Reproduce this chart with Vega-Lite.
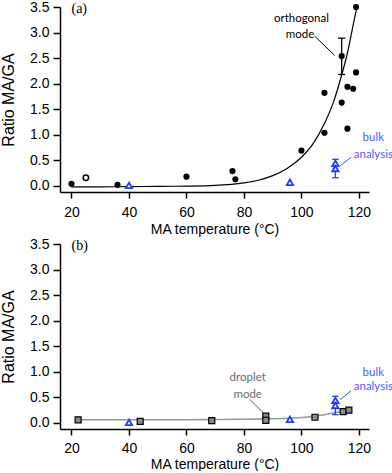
{
  "$schema": "https://vega.github.io/schema/vega-lite/v6.json",
  "padding": {"top": 0, "left": 0, "right": 0, "bottom": 0},
  "spacing": 1,
  "config": {
    "view": {"stroke": null},
    "axis": {
      "grid": false,
      "domainColor": "black",
      "domainWidth": 1.5,
      "tickColor": "black",
      "tickWidth": 1.5,
      "tickSize": 7,
      "labelColor": "black",
      "titleColor": "black",
      "labelFont": "Liberation Sans",
      "titleFont": "Liberation Sans",
      "labelFontSize": 14,
      "titleFontSize": 14,
      "titleFontWeight": "normal",
      "labelPadding": 4
    }
  },
  "datasets": {
    "curveA": [
      {"t": 20, "r": -0.02}, {"t": 30, "r": -0.02}, {"t": 40, "r": -0.015}, {"t": 50, "r": -0.01},
      {"t": 60, "r": -0.005}, {"t": 70, "r": 0.01}, {"t": 80, "r": 0.06}, {"t": 85, "r": 0.11},
      {"t": 90, "r": 0.2}, {"t": 95, "r": 0.34}, {"t": 100, "r": 0.56}, {"t": 104, "r": 0.82},
      {"t": 108, "r": 1.22}, {"t": 111, "r": 1.62}, {"t": 114, "r": 2.17}, {"t": 116, "r": 2.6},
      {"t": 118, "r": 3.15}, {"t": 119.3, "r": 3.5}
    ],
    "circA": [
      {"t": 20, "r": 0.04}, {"t": 36, "r": 0.02}, {"t": 60, "r": 0.18}, {"t": 76, "r": 0.29},
      {"t": 77, "r": 0.13}, {"t": 100, "r": 0.69}, {"t": 108, "r": 1.82}, {"t": 108, "r": 1.04},
      {"t": 114, "r": 2.54}, {"t": 114, "r": 1.63}, {"t": 116, "r": 1.94}, {"t": 116, "r": 1.12},
      {"t": 118, "r": 1.9}, {"t": 119, "r": 2.22}, {"t": 119, "r": 3.5}
    ],
    "openA": [{"t": 25, "r": 0.16}],
    "errA": [{"t": 114, "r": 2.18, "r2": 2.89}],
    "capsA": [{"t": 114, "r": 2.18}, {"t": 114, "r": 2.89}],
    "bulk": [{"t": 40, "r": 0.01}, {"t": 96, "r": 0.07}, {"t": 111.8, "r": 0.44}, {"t": 111.8, "r": 0.34}],
    "bulkErr": [{"t": 111.8, "r": 0.16, "r2": 0.52}],
    "bulkCaps": [{"t": 111.8, "r": 0.16}, {"t": 111.8, "r": 0.52}],
    "leadA": [{"t": 104.6, "r": 2.93, "t2": 111.6, "r2": 2.55}],
    "leadBulkA": [{"t": 117.3, "r": 0.56, "t2": 113.4, "r2": 0.39}],
    "textA": [{"t": 100, "r": 3.27, "label": "orthogonal"}, {"t": 99.5, "r": 2.96, "label": "mode"}],
    "bulkTextA": [{"t": 125, "r": 0.94, "label": "bulk"}, {"t": 125, "r": 0.61, "label": "analysis"}],
    "tagA": [{"t": 20, "r": 3.47, "label": "(a)"}],
    "curveB": [
      {"t": 22.3, "r": 0.06}, {"t": 30, "r": 0.06}, {"t": 40, "r": 0.06}, {"t": 50, "r": 0.06},
      {"t": 60, "r": 0.062}, {"t": 70, "r": 0.065}, {"t": 80, "r": 0.07}, {"t": 87.6, "r": 0.078},
      {"t": 95, "r": 0.09}, {"t": 100, "r": 0.105}, {"t": 104.7, "r": 0.13}, {"t": 108, "r": 0.16},
      {"t": 111, "r": 0.19}, {"t": 114.5, "r": 0.225}, {"t": 116.5, "r": 0.25}
    ],
    "sqB": [
      {"t": 22.3, "r": 0.06}, {"t": 43.9, "r": 0.03}, {"t": 68.8, "r": 0.045}, {"t": 87.6, "r": 0.13},
      {"t": 87.6, "r": 0.05}, {"t": 104.7, "r": 0.11}, {"t": 114.5, "r": 0.22}, {"t": 116.5, "r": 0.25}
    ],
    "leadB": [{"t": 82, "r": 0.46, "t2": 87.2, "r2": 0.17}],
    "leadBulkB": [{"t": 117.3, "r": 0.63, "t2": 113.4, "r2": 0.45}],
    "textB": [{"t": 81.3, "r": 0.87, "label": "droplet"}, {"t": 81.3, "r": 0.55, "label": "mode"}],
    "bulkTextB": [{"t": 125, "r": 0.97, "label": "bulk"}, {"t": 125, "r": 0.7, "label": "analysis"}],
    "tagB": [{"t": 20, "r": 3.46, "label": "(b)"}]
  },
  "vconcat": [
    {
      "width": 309,
      "height": 185,
      "encoding": {
        "x": {"field": "t", "type": "quantitative", "scale": {"domain": [16, 123.5], "nice": false, "zero": false},
              "axis": {"values": [20, 40, 60, 80, 100, 120], "title": "MA temperature (°C)", "tickSize": 6, "labelPadding": 7, "titlePadding": 3}},
        "y": {"field": "r", "type": "quantitative", "scale": {"domain": [-0.12, 3.5], "nice": false, "zero": false},
              "axis": {"values": [0, 0.5, 1, 1.5, 2, 2.5, 3, 3.5], "format": ".1f", "title": "Ratio MA/GA", "titleFontSize": 16, "titlePadding": 13}}
      },
      "layer": [
        {"data": {"name": "curveA"}, "mark": {"type": "line", "color": "black", "strokeWidth": 1.2, "interpolate": "monotone"}},
        {"data": {"name": "errA"}, "mark": {"type": "rule", "color": "black", "strokeWidth": 1.3}, "encoding": {"y2": {"field": "r2"}}},
        {"data": {"name": "capsA"}, "mark": {"type": "point", "shape": "stroke", "size": 49, "color": "black", "strokeWidth": 1.3, "opacity": 1}},
        {"data": {"name": "circA"}, "mark": {"type": "point", "shape": "circle", "filled": true, "size": 38, "color": "black", "opacity": 1}},
        {"data": {"name": "openA"}, "mark": {"type": "point", "shape": "circle", "size": 30, "stroke": "black", "fill": "white", "strokeWidth": 1.5, "opacity": 1}},
        {"data": {"name": "bulkErr"}, "mark": {"type": "rule", "color": "#1f3cff", "strokeWidth": 1.3}, "encoding": {"y2": {"field": "r2"}}},
        {"data": {"name": "bulkCaps"}, "mark": {"type": "point", "shape": "stroke", "size": 40, "color": "#1f3cff", "strokeWidth": 1.3, "opacity": 1}},
        {"data": {"name": "bulk"}, "mark": {"type": "point", "shape": "triangle-up", "size": 40, "stroke": "#1f3cff", "fill": "white", "fillOpacity": 1, "strokeWidth": 1.8, "opacity": 1}},
        {"data": {"name": "leadA"}, "mark": {"type": "rule", "color": "black", "strokeWidth": 1}, "encoding": {"x2": {"field": "t2"}, "y2": {"field": "r2"}}},
        {"data": {"name": "leadBulkA"}, "mark": {"type": "rule", "color": "#3b55ff", "strokeWidth": 1}, "encoding": {"x2": {"field": "t2"}, "y2": {"field": "r2"}}},
        {"data": {"name": "textA"}, "mark": {"type": "text", "font": "Lato", "fontSize": 11.5, "color": "black", "align": "center", "baseline": "middle"}, "encoding": {"text": {"field": "label"}}},
        {"data": {"name": "bulkTextA"}, "mark": {"type": "text", "font": "Lato", "fontSize": 11.5, "color": "#4a5cff", "align": "center", "baseline": "middle"}, "encoding": {"text": {"field": "label"}}},
        {"data": {"name": "tagA"}, "mark": {"type": "text", "font": "Liberation Serif", "fontSize": 14, "color": "black", "align": "left", "baseline": "middle"}, "encoding": {"text": {"field": "label"}}}
      ]
    },
    {
      "width": 309,
      "height": 185,
      "encoding": {
        "x": {"field": "t", "type": "quantitative", "scale": {"domain": [16, 123.5], "nice": false, "zero": false},
              "axis": {"values": [20, 40, 60, 80, 100, 120], "title": "MA temperature (°C)", "tickSize": 6, "labelPadding": 6, "titlePadding": 2}},
        "y": {"field": "r", "type": "quantitative", "scale": {"domain": [-0.12, 3.5], "nice": false, "zero": false},
              "axis": {"values": [0, 0.5, 1, 1.5, 2, 2.5, 3, 3.5], "format": ".1f", "title": "Ratio MA/GA", "titleFontSize": 16, "titlePadding": 13}}
      },
      "layer": [
        {"data": {"name": "curveB"}, "mark": {"type": "line", "color": "#8d9c9a", "strokeWidth": 1.6, "interpolate": "monotone"}},
        {"data": {"name": "leadB"}, "mark": {"type": "rule", "color": "#4d5a58", "strokeWidth": 1}, "encoding": {"x2": {"field": "t2"}, "y2": {"field": "r2"}}},
        {"data": {"name": "sqB"}, "mark": {"type": "point", "shape": "square", "size": 36, "fill": "#8a8a8a", "fillOpacity": 1, "stroke": "black", "strokeWidth": 1.2, "opacity": 1}},
        {"data": {"name": "bulkErr"}, "mark": {"type": "rule", "color": "#1f3cff", "strokeWidth": 1.3}, "encoding": {"y2": {"field": "r2"}}},
        {"data": {"name": "bulkCaps"}, "mark": {"type": "point", "shape": "stroke", "size": 40, "color": "#1f3cff", "strokeWidth": 1.3, "opacity": 1}},
        {"data": {"name": "bulk"}, "mark": {"type": "point", "shape": "triangle-up", "size": 40, "stroke": "#1f3cff", "fill": "white", "fillOpacity": 1, "strokeWidth": 1.8, "opacity": 1}},
        {"data": {"name": "leadBulkB"}, "mark": {"type": "rule", "color": "#3b55ff", "strokeWidth": 1}, "encoding": {"x2": {"field": "t2"}, "y2": {"field": "r2"}}},
        {"data": {"name": "textB"}, "mark": {"type": "text", "font": "Lato", "fontSize": 11.5, "color": "#5f6e6c", "align": "center", "baseline": "middle"}, "encoding": {"text": {"field": "label"}}},
        {"data": {"name": "bulkTextB"}, "mark": {"type": "text", "font": "Lato", "fontSize": 11.5, "color": "#4a5cff", "align": "center", "baseline": "middle"}, "encoding": {"text": {"field": "label"}}},
        {"data": {"name": "tagB"}, "mark": {"type": "text", "font": "Liberation Serif", "fontSize": 14, "color": "black", "align": "left", "baseline": "middle"}, "encoding": {"text": {"field": "label"}}}
      ]
    }
  ]
}
